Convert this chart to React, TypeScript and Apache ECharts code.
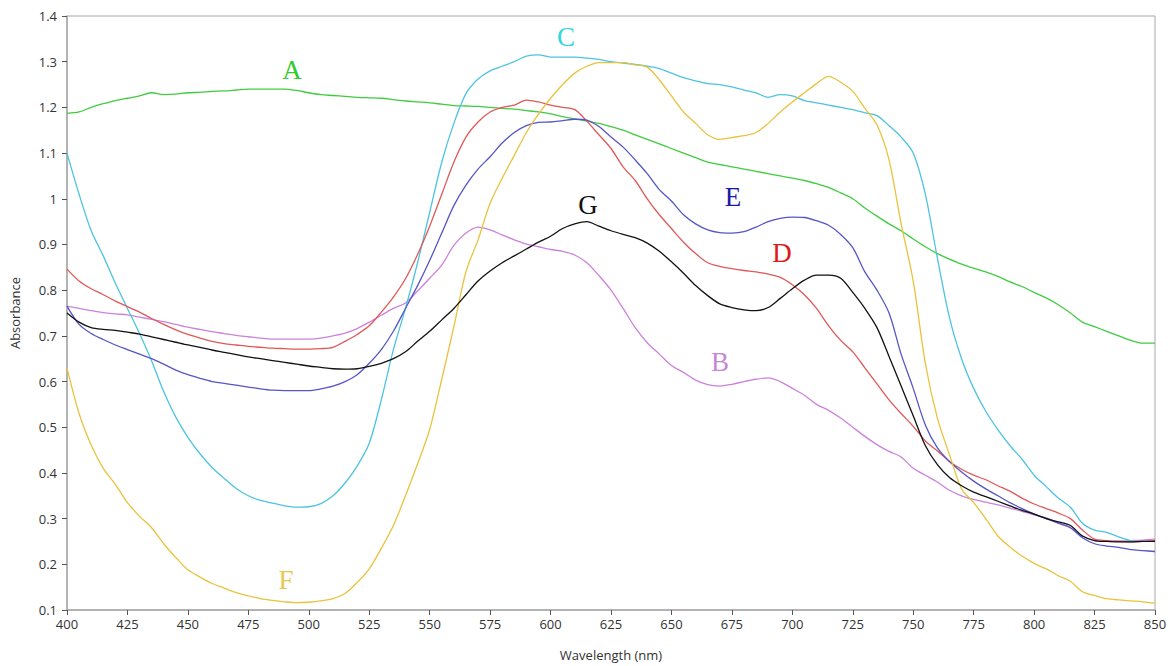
import React, { useEffect, useRef } from "react";
import * as echarts from "echarts";

const wavelengths: number[] = [];
for (let w = 400; w <= 850; w += 5) wavelengths.push(w);

const xTicks = [400, 425, 450, 475, 500, 525, 550, 575, 600, 625, 650, 675, 700, 725, 750, 775, 800, 825, 850];

const seriesA = [1.187, 1.190, 1.200, 1.208, 1.215, 1.220, 1.225, 1.232, 1.228, 1.229, 1.232, 1.233, 1.235, 1.236, 1.238, 1.240, 1.240, 1.240, 1.240, 1.237,
  1.232, 1.228, 1.226, 1.224, 1.222, 1.221, 1.220, 1.217, 1.214, 1.212, 1.210, 1.207, 1.204, 1.203, 1.202, 1.200, 1.198, 1.196, 1.193, 1.190,
  1.186, 1.180, 1.175, 1.170, 1.165, 1.158, 1.150, 1.140, 1.130, 1.120, 1.110, 1.100, 1.090, 1.080, 1.075, 1.070, 1.065, 1.060, 1.055, 1.050,
  1.045, 1.040, 1.033, 1.025, 1.013, 1.000, 0.980, 0.962, 0.945, 0.930, 0.912, 0.895, 0.880, 0.868, 0.857, 0.848, 0.840, 0.830, 0.818, 0.808,
  0.795, 0.783, 0.768, 0.750, 0.730, 0.720, 0.710, 0.700, 0.690, 0.684, 0.684];
const seriesB = [0.765, 0.760, 0.755, 0.751, 0.748, 0.746, 0.741, 0.736, 0.731, 0.725, 0.719, 0.714, 0.709, 0.705, 0.701, 0.698, 0.695, 0.693, 0.693, 0.693,
  0.693, 0.695, 0.700, 0.706, 0.716, 0.730, 0.745, 0.760, 0.772, 0.798, 0.826, 0.855, 0.898, 0.925, 0.938, 0.932, 0.921, 0.910, 0.901, 0.895,
  0.889, 0.885, 0.877, 0.860, 0.832, 0.800, 0.760, 0.718, 0.685, 0.660, 0.635, 0.620, 0.603, 0.593, 0.590, 0.594, 0.600, 0.605, 0.608, 0.600,
  0.585, 0.570, 0.550, 0.537, 0.520, 0.500, 0.480, 0.462, 0.447, 0.435, 0.410, 0.395, 0.380, 0.362, 0.350, 0.342, 0.336, 0.330, 0.323, 0.316,
  0.308, 0.302, 0.290, 0.280, 0.262, 0.252, 0.250, 0.251, 0.252, 0.253, 0.255];
const seriesC = [1.100, 1.010, 0.930, 0.875, 0.815, 0.760, 0.705, 0.645, 0.578, 0.522, 0.478, 0.442, 0.412, 0.388, 0.366, 0.350, 0.340, 0.334, 0.328, 0.325,
  0.326, 0.333, 0.350, 0.378, 0.415, 0.465, 0.560, 0.670, 0.760, 0.860, 0.970, 1.080, 1.165, 1.230, 1.262, 1.280, 1.290, 1.300, 1.312, 1.315,
  1.310, 1.310, 1.310, 1.308, 1.305, 1.300, 1.297, 1.294, 1.290, 1.285, 1.275, 1.265, 1.258, 1.252, 1.250, 1.245, 1.238, 1.232, 1.222, 1.228,
  1.225, 1.215, 1.210, 1.205, 1.200, 1.195, 1.188, 1.182, 1.160, 1.135, 1.100, 1.010, 0.870, 0.740, 0.650, 0.585, 0.535, 0.495, 0.460, 0.430,
  0.395, 0.370, 0.345, 0.325, 0.290, 0.275, 0.270, 0.260, 0.252, 0.250, 0.250];
const seriesD = [0.846, 0.820, 0.803, 0.790, 0.776, 0.764, 0.752, 0.738, 0.725, 0.713, 0.703, 0.695, 0.688, 0.683, 0.680, 0.677, 0.675, 0.673, 0.672, 0.671,
  0.671, 0.672, 0.675, 0.688, 0.703, 0.722, 0.752, 0.785, 0.825, 0.878, 0.940, 1.010, 1.080, 1.135, 1.168, 1.190, 1.200, 1.205, 1.216, 1.212,
  1.205, 1.200, 1.195, 1.170, 1.140, 1.110, 1.070, 1.040, 1.000, 0.965, 0.935, 0.905, 0.880, 0.860, 0.852, 0.847, 0.843, 0.840, 0.835, 0.828,
  0.812, 0.790, 0.760, 0.722, 0.690, 0.665, 0.630, 0.595, 0.560, 0.530, 0.502, 0.470, 0.448, 0.425, 0.408, 0.395, 0.385, 0.372, 0.360, 0.345,
  0.332, 0.322, 0.312, 0.300, 0.275, 0.255, 0.252, 0.250, 0.249, 0.250, 0.252];
const seriesE = [0.765, 0.725, 0.705, 0.692, 0.680, 0.670, 0.660, 0.650, 0.638, 0.625, 0.615, 0.607, 0.600, 0.596, 0.592, 0.588, 0.584, 0.581, 0.580, 0.580,
  0.580, 0.584, 0.590, 0.600, 0.615, 0.640, 0.670, 0.710, 0.760, 0.810, 0.865, 0.925, 0.985, 1.030, 1.065, 1.092, 1.122, 1.145, 1.160, 1.167,
  1.168, 1.171, 1.174, 1.172, 1.158, 1.135, 1.113, 1.085, 1.055, 1.020, 0.995, 0.965, 0.945, 0.932, 0.926, 0.925, 0.928, 0.938, 0.950, 0.957,
  0.960, 0.959, 0.952, 0.942, 0.922, 0.893, 0.840, 0.800, 0.750, 0.660, 0.585, 0.505, 0.455, 0.425, 0.402, 0.382, 0.365, 0.350, 0.335, 0.322,
  0.310, 0.300, 0.290, 0.280, 0.258, 0.245, 0.240, 0.237, 0.232, 0.230, 0.228];
const seriesF = [0.630, 0.530, 0.461, 0.410, 0.375, 0.335, 0.305, 0.280, 0.245, 0.215, 0.188, 0.172, 0.158, 0.148, 0.138, 0.131, 0.125, 0.121, 0.118, 0.116,
  0.117, 0.120, 0.125, 0.136, 0.160, 0.190, 0.235, 0.285, 0.350, 0.420, 0.495, 0.605, 0.720, 0.840, 0.910, 0.990, 1.045, 1.095, 1.145, 1.185,
  1.220, 1.250, 1.275, 1.290, 1.298, 1.298, 1.298, 1.293, 1.288, 1.260, 1.225, 1.190, 1.165, 1.140, 1.130, 1.134, 1.138, 1.145, 1.165, 1.190,
  1.212, 1.232, 1.252, 1.268, 1.255, 1.235, 1.198, 1.162, 1.085, 0.945, 0.820, 0.640, 0.520, 0.440, 0.365, 0.335, 0.300, 0.262, 0.238, 0.218,
  0.202, 0.190, 0.175, 0.163, 0.140, 0.132, 0.125, 0.122, 0.120, 0.118, 0.115];
const seriesG = [0.750, 0.730, 0.718, 0.714, 0.712, 0.708, 0.704, 0.698, 0.692, 0.686, 0.680, 0.675, 0.669, 0.664, 0.659, 0.654, 0.650, 0.646, 0.642, 0.638,
  0.634, 0.631, 0.628, 0.627, 0.628, 0.633, 0.640, 0.650, 0.665, 0.688, 0.710, 0.735, 0.760, 0.790, 0.820, 0.842, 0.860, 0.875, 0.890, 0.905,
  0.918, 0.935, 0.945, 0.950, 0.940, 0.930, 0.922, 0.915, 0.903, 0.885, 0.862, 0.837, 0.810, 0.788, 0.770, 0.762, 0.757, 0.755, 0.762, 0.782,
  0.803, 0.822, 0.833, 0.833, 0.826, 0.795, 0.760, 0.718, 0.655, 0.590, 0.525, 0.460, 0.418, 0.390, 0.372, 0.358, 0.348, 0.338, 0.328, 0.318,
  0.310, 0.300, 0.293, 0.285, 0.262, 0.252, 0.250, 0.249, 0.249, 0.250, 0.250];

const seriesNames = ["A", "B", "C", "D", "E", "F", "G"];
const seriesValues = [seriesA, seriesB, seriesC, seriesD, seriesE, seriesF, seriesG];
const lineColors = ["#3fcc3f", "#cc82dc", "#4cc4e0", "#e05858", "#5656c8", "#e8c33c", "#111111"];
const labelColors = ["#2ecc2e", "#c488d8", "#30d6e0", "#dd1a1a", "#1a1aa8", "#e8c850", "#111111"];
const labelPos: [number, number][] = [[292, 70], [720, 362], [566, 37], [782, 253], [733, 197], [286, 580], [588, 205]];

const axisFont = "'Open Sans', 'Noto Sans', sans-serif";

export default function App() {
  const ref = useRef<HTMLDivElement>(null);
  useEffect(() => {
    if (!ref.current) return;
    const chart = echarts.init(ref.current, null, { renderer: "svg" });
    const series = seriesNames.map((name, i) => ({
      name,
      type: "line",
      data: wavelengths.map((w, j) => [w, seriesValues[i][j]]),
      showSymbol: false,
      smooth: 0.3,
      lineStyle: { color: lineColors[i], width: 1.3 },
      itemStyle: { color: lineColors[i] },
      z: i === 6 ? 3 : 2,
    }));
    const graphic = seriesNames.map((name, i) => ({
      type: "text",
      x: labelPos[i][0],
      y: labelPos[i][1],
      style: {
        text: name,
        fill: labelColors[i],
        font: "27px 'Liberation Serif', 'DejaVu Serif', serif",
        textAlign: "center",
        textVerticalAlign: "middle",
      },
      z: 10,
    }));
    chart.setOption({
      animation: false,
      backgroundColor: "#ffffff",
      grid: { left: 65, right: 16, top: 16, bottom: 49, show: true, borderColor: "#a8a8a8", borderWidth: 1 },
      xAxis: {
        type: "value",
        min: 400,
        max: 850,
        interval: 25,
        name: "Wavelength (nm)",
        nameLocation: "middle",
        nameGap: 38,
        nameTextStyle: { fontSize: 13, color: "#333", fontFamily: axisFont },
        axisLine: { lineStyle: { color: "#a8a8a8", width: 1.5 } },
        axisTick: { show: true, length: 5, lineStyle: { color: "#555" } },
        axisLabel: { color: "#333", fontSize: 13, margin: 7, fontFamily: axisFont },
        splitLine: { show: false },
        data: xTicks,
      },
      yAxis: {
        type: "value",
        min: 0.1,
        max: 1.4,
        interval: 0.1,
        name: "Absorbance",
        nameLocation: "middle",
        nameGap: 46,
        nameTextStyle: { fontSize: 13, color: "#333", fontFamily: axisFont },
        axisLine: { show: true, lineStyle: { color: "#a8a8a8", width: 1.5 } },
        axisTick: { show: true, length: 5, lineStyle: { color: "#555" } },
        axisLabel: {
          color: "#333",
          fontSize: 13,
          margin: 10,
          fontFamily: axisFont,
          formatter: (v: number) => String(Math.round(v * 10) / 10),
        },
        splitLine: { show: false },
      },
      series,
      graphic,
    });
    return () => chart.dispose();
  }, []);
  return <div ref={ref} style={{ position: "fixed", left: 0, top: 0, width: 1171, height: 666 }} />;
}
